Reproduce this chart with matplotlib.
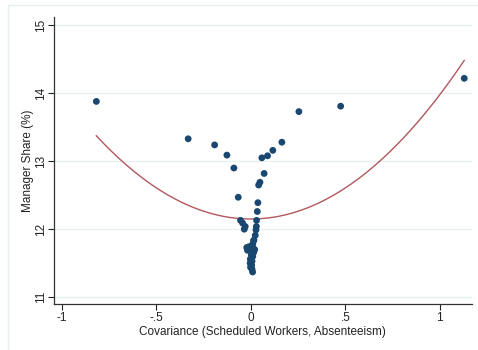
import numpy as np
import matplotlib
matplotlib.use("Agg")
import matplotlib.pyplot as plt
from matplotlib.patches import Rectangle

plt.rcParams['font.family'] = ['Liberation Sans', 'DejaVu Sans']

# Binned scatter: covariance vs manager share
cov = [-0.818, -0.332, -0.192, -0.127, -0.090, -0.067, -0.055, -0.044, -0.030, -0.035,
       1.129, 0.475, 0.254, 0.164, 0.116, 0.088, 0.058, 0.070, 0.048, 0.041,
       0.037, 0.034, 0.030, 0.029, 0.027, 0.023, 0.016,
       0.014, 0.010, -0.022, -0.012, 0.000, 0.012, 0.020, -0.018, 0.005, 0.015,
       0.002, 0.010, -0.003, 0.006, -0.004, 0.004, -0.002, 0.006, 0.009]
share = [13.88, 13.33, 13.24, 13.09, 12.90, 12.47, 12.13, 12.09, 12.04, 12.00,
         14.22, 13.81, 13.73, 13.28, 13.16, 13.08, 13.05, 12.82, 12.69, 12.65,
         12.39, 12.26, 12.13, 12.04, 11.99, 11.91, 11.84,
         11.83, 11.78, 11.73, 11.74, 11.75, 11.72, 11.70, 11.69, 11.68, 11.66,
         11.62, 11.60, 11.56, 11.53, 11.50, 11.47, 11.44, 11.41, 11.37]

# Quadratic fit coefficients (a + b*x + c*x^2)
fit_a, fit_b, fit_c = 12.15, 0.0, 1.83

xticks = [-1, -0.5, 0, 0.5, 1]
xticklabels = ["-1", "-.5", "0", ".5", "1"]
yticks = [11, 12, 13, 14, 15]
yticklabels = ["11", "12", "13", "14", "15"]

fig = plt.figure(figsize=(4.78, 3.5), dpi=100)
ax = fig.add_axes([0.113, 0.131, 0.874, 0.820])

# faint figure border
fig.patches.append(Rectangle((8/478, -0.01), 1.0, 1 - 5/350 + 0.01, transform=fig.transFigure,
                             fill=False, edgecolor='#e6eeee', lw=1.0))

for yv in yticks:
    ax.axhline(yv, color='#e8f0f0', lw=1.0, zorder=0)

x = np.array(cov)
y = np.array(share)
ax.scatter(x, y, s=24, color='#1a476f', edgecolors='none', zorder=3)

xs = np.linspace(x.min(), x.max(), 200)
ax.plot(xs, fit_a + fit_b * xs + fit_c * xs ** 2, color='#b0585e', lw=1.0, zorder=2)

ax.set_xlim(-1.042, 1.169)
ax.set_ylim(10.897, 15.12)
ax.set_xticks(xticks)
ax.set_xticklabels(xticklabels)
ax.set_yticks(yticks)
ax.set_yticklabels(yticklabels, rotation=90, va='center')
ax.tick_params(axis='both', direction='out', length=4, width=0.8, labelsize=8.5, pad=2, colors='#222222')
ax.tick_params(axis='y', pad=1)
for s in ['top', 'right']:
    ax.spines[s].set_visible(False)
for s in ['left', 'bottom']:
    ax.spines[s].set_color('#333333')
    ax.spines[s].set_linewidth(0.9)

ax.set_xlabel("Covariance (Scheduled Workers, Absenteeism)", fontsize=8.5, labelpad=1, color='#222222')
ax.set_ylabel("Manager Share (%)", fontsize=8.5, labelpad=1, color='#222222')

fig.savefig("out.png", dpi=100)
